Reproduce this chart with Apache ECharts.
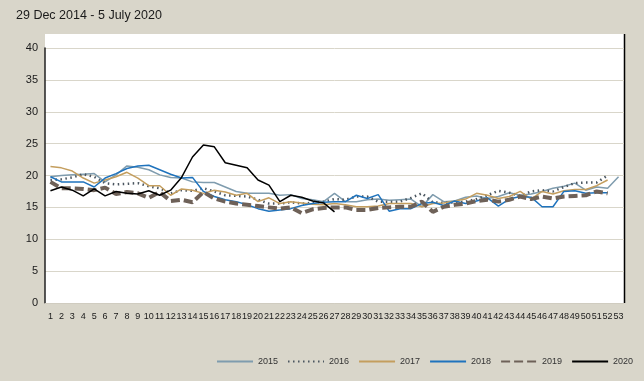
<!DOCTYPE html>
<html><head><meta charset="utf-8">
<script src="https://cdn.jsdelivr.net/npm/echarts@6/dist/echarts.min.js"></script>
<style>html,body{margin:0;padding:0;background:#D9D6CA;}#c{width:644px;height:381px;}</style>
</head><body><div id="c"></div>
<script>
const titleText = '29 Dec 2014 - 5 July 2020';
const weeks = Array.from({length:53},(_, i)=>String(i+1));
const yTicks = [0,5,10,15,20,25,30,35,40];
const seriesNames = ['2015','2016','2017','2018','2019','2020'];
const v2015 = [19.8,20.0,20.1,20.2,20.3,19.0,20.1,21.5,21.3,20.9,20.1,19.7,19.6,19.0,18.9,18.9,18.2,17.5,17.2,17.2,17.2,16.9,17.0,16.4,16.2,15.9,17.2,15.9,15.9,16.2,16.3,16.1,16.2,16.3,15.1,17.0,15.9,16.0,16.6,16.8,16.4,16.7,17.3,16.9,17.1,17.5,18.0,18.3,18.8,17.7,18.2,18.0,19.8];
const v2016 = [19.3,19.4,19.7,20.2,19.8,18.8,18.6,18.7,18.8,18.3,18.0,17.2,17.7,17.6,18.0,17.5,16.9,16.8,16.7,16.2,15.6,15.6,15.8,15.6,15.7,15.9,16.3,16.2,16.7,16.7,15.9,15.9,15.9,16.5,17.2,15.8,15.7,15.8,15.9,16.3,16.9,17.6,17.3,16.8,17.5,17.7,17.5,18.2,18.8,18.9,18.9,20.0];
const v2017 = [21.4,21.2,20.7,19.6,18.8,19.3,19.8,20.5,19.6,18.4,18.4,16.9,17.9,17.7,17.2,17.7,17.4,16.9,17.2,15.9,16.5,15.6,15.9,15.7,15.5,15.4,15.6,15.4,15.1,15.1,15.2,15.6,15.6,15.6,15.1,15.6,15.7,16.0,16.3,17.2,16.9,16.4,16.7,17.5,16.3,17.5,17.1,17.6,17.8,17.8,18.4,19.3];
const v2018 = [19.8,19.0,19.0,19.0,18.2,19.6,20.3,21.1,21.5,21.6,20.9,20.2,19.6,19.7,17.5,16.7,16.2,15.9,15.4,14.8,14.4,14.6,14.8,15.3,15.6,15.8,15.9,15.9,16.9,16.4,17.0,14.4,14.8,14.8,15.6,15.8,15.3,16.0,15.6,16.0,16.5,15.2,16.3,16.7,16.6,15.1,15.1,17.5,17.6,17.2,17.3,17.3];
const v2019 = [19.0,18.0,18.0,17.9,17.7,18.1,17.1,17.4,17.2,16.5,17.4,16.0,16.2,15.8,17.4,16.4,15.9,15.6,15.4,15.2,15.0,14.8,15.0,14.1,14.7,14.9,15.0,15.0,14.6,14.6,14.9,15.0,15.1,15.1,15.9,14.3,15.1,15.4,15.6,16.0,16.2,15.9,16.2,16.7,16.3,16.7,16.4,16.7,16.8,16.9,17.5,17.2];
const v2020 = [17.6,18.2,17.7,16.8,17.9,16.8,17.5,17.2,17.1,17.6,16.9,17.7,19.7,22.9,24.8,24.5,22.0,21.6,21.2,19.3,18.5,15.9,16.9,16.6,16.0,15.7,14.3];

const font = 'Liberation Sans';
const chart = echarts.init(document.getElementById('c'), null, {renderer:'canvas'});
const mk = (name, data, color, width, type) => ({
  name, type:'line', data, symbol:'none', smooth:false,
  lineStyle:{color, width, type}, itemStyle:{color}, z: 3
});
chart.setOption({
  backgroundColor:'#D9D6CA',
  animation:false,
  title:{text:titleText, left:11, top:4, textStyle:{fontFamily:font, fontSize:12.5, fontWeight:'normal', color:'#1a1a1a'}},
  graphic:[
    {type:'rect', shape:{x:45,y:34,width:579,height:269}, style:{fill:'#ffffff'}, z:-10, silent:true},
    {type:'line', shape:{x1:624.5,y1:34,x2:624.5,y2:303}, style:{stroke:'#000',lineWidth:1.5}, z:-9, silent:true}
  ],
  grid:{left:45, right:20, top:48, bottom:78},
  legend:{
    data:seriesNames, left:211, top:352, width:433, itemWidth:36, itemHeight:10, itemGap:9,
    itemStyle:{opacity:0},
    textStyle:{fontFamily:font, fontSize:9, color:'#333'}
  },
  xAxis:{
    type:'category', data:weeks, boundaryGap:true,
    axisLine:{show:true, lineStyle:{color:'#D0CCC0', width:1}},
    axisTick:{show:false},
    axisLabel:{interval:0, fontFamily:font, fontSize:9, color:'#1a1a1a', margin:9}
  },
  yAxis:{
    type:'value', min:yTicks[0], max:yTicks[yTicks.length-1], interval:5,
    axisLine:{show:true, lineStyle:{color:'#222', width:1.5}},
    axisTick:{show:false},
    axisLabel:{fontFamily:font, fontSize:11, color:'#1a1a1a', margin:7},
    splitLine:{lineStyle:{color:'#D9D6CA', width:1}}
  },
  series:[
    mk('2015', v2015, '#7F9CAE', 1.5, 'solid'),
    mk('2016', v2016, '#4B5660', 2.5, [1.5,3.5]),
    mk('2017', v2017, '#C49E5E', 1.5, 'solid'),
    mk('2018', v2018, '#1F73BD', 1.5, 'solid'),
    mk('2019', v2019, '#6E6158', 4, [9,4]),
    mk('2020', v2020, '#000000', 1.5, 'solid')
  ]
});
</script></body></html>
